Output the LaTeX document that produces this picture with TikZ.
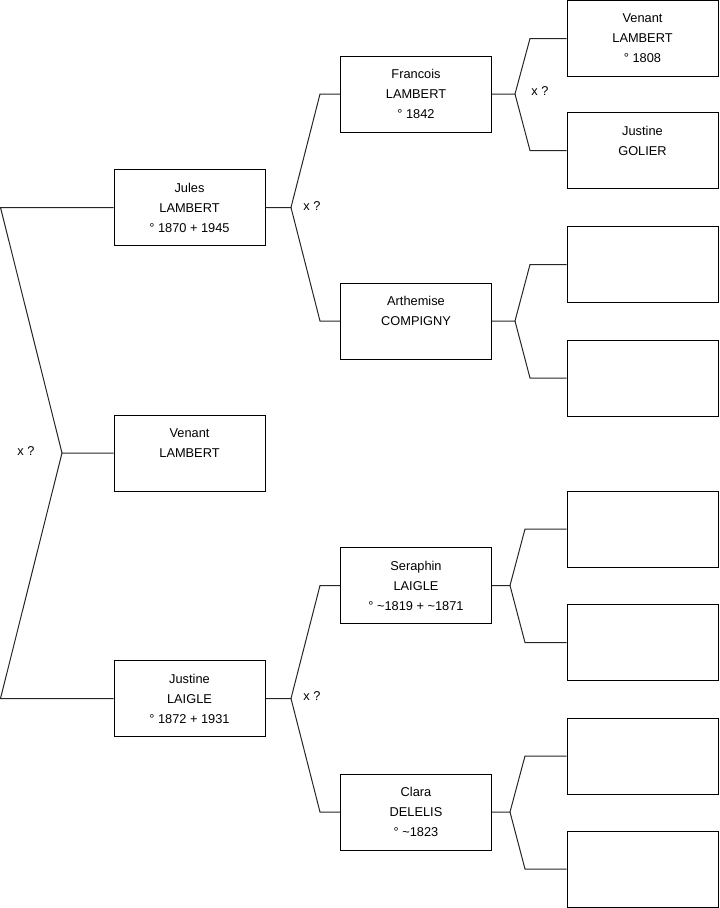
\documentclass[tikz,border=0pt]{standalone}
\usepackage{fontspec}
\setmainfont{Liberation Sans}

\begin{document}
\begin{tikzpicture}[
    x=0.75pt, y=-0.75pt,
    font=\fontsize{9.6}{15}\selectfont,
    every node/.style={align=center},
    person/.style={rectangle, draw, line width=0.75pt, inner sep=0pt,
                   minimum width=113.25pt, minimum height=57pt},
    link/.style={draw=black!85, line width=0.75pt, line join=miter},
    union/.style={inner sep=0pt}
]
  \useasboundingbox (0,0) rectangle (719,908);

  % generation 0
  \node[person] (venant)   at (189.5,453) {Venant\\LAMBERT\\\mbox{}};

  % generation 1
  \node[person] (jules)    at (189.5,207.5) {Jules\\LAMBERT\\\textdegree{} 1870 + 1945};
  \node[person] (justine)  at (189.5,698.5) {Justine\\LAIGLE\\\textdegree{} 1872 + 1931};

  % generation 2
  \node[person] (francois)  at (416,94)  {Francois\\LAMBERT\\\textdegree{} 1842};
  \node[person] (arthemise) at (416,321) {Arthemise\\COMPIGNY\\\mbox{}};
  \node[person] (seraphin)  at (416,585.5) {Seraphin\\LAIGLE\\\textdegree{} \textasciitilde1819 + \textasciitilde1871};
  \node[person] (clara)     at (416,812) {Clara\\DELELIS\\\textdegree{} \textasciitilde1823};

  % generation 3
  \node[person] (venantsr)  at (642.5,38.5)  {Venant\\LAMBERT\\\textdegree{} 1808};
  \node[person] (golier)    at (642.5,150.5) {Justine\\GOLIER\\\mbox{}};
  \node[person] (arthdad)   at (642.5,264.5) {};
  \node[person] (arthmom)   at (642.5,378)   {};
  \node[person] (serdad)    at (642.5,529)   {};
  \node[person] (sermom)    at (642.5,642.5) {};
  \node[person] (cladad)    at (642.5,756)   {};
  \node[person] (clamom)    at (642.5,869)   {};

  % fork points
  \coordinate (f0)  at (62,453);
  \coordinate (f0a) at (0.5,207.5);
  \coordinate (f0b) at (0.5,698.5);
  \coordinate (f1)  at (291,207.5);
  \coordinate (f1a) at (320,94);
  \coordinate (f1b) at (320,321);
  \coordinate (f2)  at (291,698.5);
  \coordinate (f2a) at (320,585.5);
  \coordinate (f2b) at (320,812);
  \coordinate (f3)  at (515,94);
  \coordinate (f3a) at (530,38.5);
  \coordinate (f3b) at (530,150.5);
  \coordinate (f4)  at (515,321);
  \coordinate (f4a) at (530,264.5);
  \coordinate (f4b) at (530,378);
  \coordinate (f5)  at (510,585.5);
  \coordinate (f5a) at (525,529);
  \coordinate (f5b) at (525,642.5);
  \coordinate (f6)  at (510,812);
  \coordinate (f6a) at (525,756);
  \coordinate (f6b) at (525,869);

  \draw[link] (venant.west) -- (f0) -- (f0a) -- (jules.west);
  \draw[link] (f0) -- (f0b) -- (justine.west);

  \draw[link] (jules.east) -- (f1) -- (f1a) -- (francois.west);
  \draw[link] (f1) -- (f1b) -- (arthemise.west);

  \draw[link] (justine.east) -- (f2) -- (f2a) -- (seraphin.west);
  \draw[link] (f2) -- (f2b) -- (clara.west);

  \draw[link] (francois.east) -- (f3) -- (f3a) -- (venantsr.west);
  \draw[link] (f3) -- (f3b) -- (golier.west);

  \draw[link] (arthemise.east) -- (f4) -- (f4a) -- (arthdad.west);
  \draw[link] (f4) -- (f4b) -- (arthmom.west);

  \draw[link] (seraphin.east) -- (f5) -- (f5a) -- (serdad.west);
  \draw[link] (f5) -- (f5b) -- (sermom.west);

  \draw[link] (clara.east) -- (f6) -- (f6a) -- (cladad.west);
  \draw[link] (f6) -- (f6b) -- (clamom.west);

  % marriage marks
  \node[union] (u0) at (26,451)  {x ?};
  \node[union] (u1) at (312,206) {x ?};
  \node[union] (u2) at (312,696) {x ?};
  \node[union] (u3) at (540,91)  {x ?};
\end{tikzpicture}
\end{document}
